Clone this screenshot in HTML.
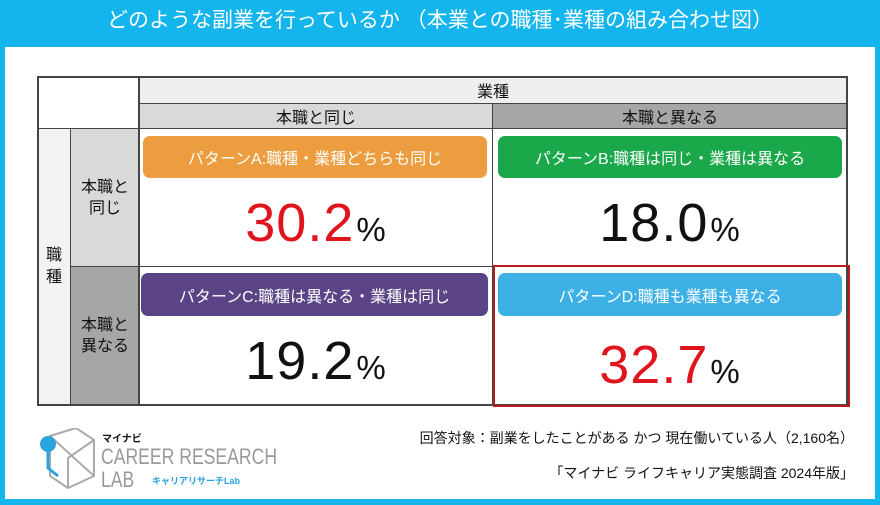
<!DOCTYPE html>
<html><head><meta charset="utf-8"><style>
*{margin:0;padding:0;box-sizing:border-box}
body{width:880px;height:505px;background:#14b4ec;position:relative;overflow:hidden;font-family:"Liberation Sans","Noto Sans CJK JP",sans-serif;color:#111}
.a{position:absolute}
.title{left:0;top:0;width:880px;height:46px;color:#fff;font-size:21px;text-align:center;line-height:42px}
.panel{left:5px;top:47px;width:870px;height:452px;background:#fff}
.c{display:flex;align-items:center;justify-content:center;text-align:center}
.pill{border-radius:7px;color:#fff;font-size:16px}
.num{font-size:54px;font-weight:400;letter-spacing:1px}
.num span{font-size:33px;color:#111;font-weight:400;margin-top:14px;margin-left:2px}
.ln{background:#444}
</style></head><body>
<div class="a title">どのような副業を行っているか （本業との職種･業種の組み合わせ図）</div>
<div class="a panel"></div>
<div class="a c" style="left:139px;top:77px;width:708px;height:26px;background:#efefef;font-size:16px">業種</div>
<div class="a c" style="left:139px;top:103px;width:354px;height:26px;background:#d9d9d9;font-size:16px">本職と同じ</div>
<div class="a c" style="left:493px;top:103px;width:354px;height:26px;background:#a6a6a6;font-size:16px">本職と異なる</div>
<div class="a c" style="left:37px;top:129px;width:34px;height:276px;background:#f2f2f2;font-size:16px;line-height:22px">職<br>種</div>
<div class="a c" style="left:71px;top:129px;width:68px;height:137px;background:#d9d9d9;font-size:16px;line-height:21px">本職と<br>同じ</div>
<div class="a c" style="left:71px;top:266px;width:68px;height:139px;background:#a6a6a6;font-size:16px;line-height:21px">本職と<br>異なる</div>
<div class="a ln" style="left:37px;top:76px;width:811px;height:2px"></div>
<div class="a ln" style="left:37px;top:404px;width:811px;height:2px"></div>
<div class="a ln" style="left:37px;top:76px;width:2px;height:330px"></div>
<div class="a ln" style="left:846px;top:76px;width:2px;height:330px"></div>
<div class="a ln" style="left:138px;top:76px;width:2px;height:330px"></div>
<div class="a ln" style="left:70px;top:129px;width:1px;height:276px"></div>
<div class="a ln" style="left:139px;top:103px;width:708px;height:1px"></div>
<div class="a ln" style="left:37px;top:128px;width:810px;height:1px"></div>
<div class="a ln" style="left:492px;top:103px;width:1px;height:302px"></div>
<div class="a ln" style="left:71px;top:266px;width:776px;height:1px"></div>
<div class="a" style="left:493px;top:265px;width:357px;height:142px;border:2px solid #b81c1c"></div>
<div class="a c pill" style="left:143px;top:136px;width:344px;height:42px;background:#ec9d3f">パターンA:職種・業種どちらも同じ</div>
<div class="a c pill" style="left:498px;top:136px;width:344px;height:42px;background:#1aa84a">パターンB:職種は同じ・業種は異なる</div>
<div class="a c pill" style="left:141px;top:273px;width:347px;height:43px;background:#5b4486">パターンC:職種は異なる・業種は同じ</div>
<div class="a c pill" style="left:498px;top:273px;width:344px;height:43px;background:#3db0e6">パターンD:職種も業種も異なる</div>
<div class="a c num" style="left:139px;top:192px;width:354px;height:62px;color:#e0141c">30.2<span>%</span></div>
<div class="a c num" style="left:493px;top:192px;width:354px;height:62px;color:#111">18.0<span>%</span></div>
<div class="a c num" style="left:139px;top:330px;width:354px;height:62px;color:#111">19.2<span>%</span></div>
<div class="a c num" style="left:493px;top:334px;width:354px;height:62px;color:#e0141c">32.7<span>%</span></div>
<div class="a" style="right:26px;top:428px;font-size:14px">回答対象：副業をしたことがある かつ 現在働いている人（2,160名）</div>
<div class="a" style="right:26px;top:463px;font-size:14px">「マイナビ ライフキャリア実態調査 2024年版」</div>
<svg class="a" style="left:36px;top:428px" width="60" height="62" viewBox="0 0 60 62">
<g fill="none" stroke="#aaa" stroke-width="2"><path d="M14 8 L40 0 L58 12 L58 48 L32 60 L14 48 Z M14 8 L58 48 M58 12 L32 30 L32 60"/></g>
<circle cx="12" cy="16" r="8" fill="#2aa3de"/><path d="M12 24 L12 40 L22 48" stroke="#2aa3de" stroke-width="3" fill="none"/>
</svg>
<div class="a" style="left:102px;top:430px;font-size:10px;font-weight:bold">マイナビ</div>
<div class="a" style="left:101px;top:444px;font-size:22px;color:#999;transform:scaleX(0.8);transform-origin:0 0;white-space:nowrap">CAREER RESEARCH</div>
<div class="a" style="left:101px;top:467px;font-size:22px;color:#999;transform:scaleX(0.8);transform-origin:0 0">LAB</div>
<div class="a" style="left:152px;top:474px;font-size:9px;color:#2aa3de;font-weight:bold">キャリアリサーチLab</div>
</body></html>
